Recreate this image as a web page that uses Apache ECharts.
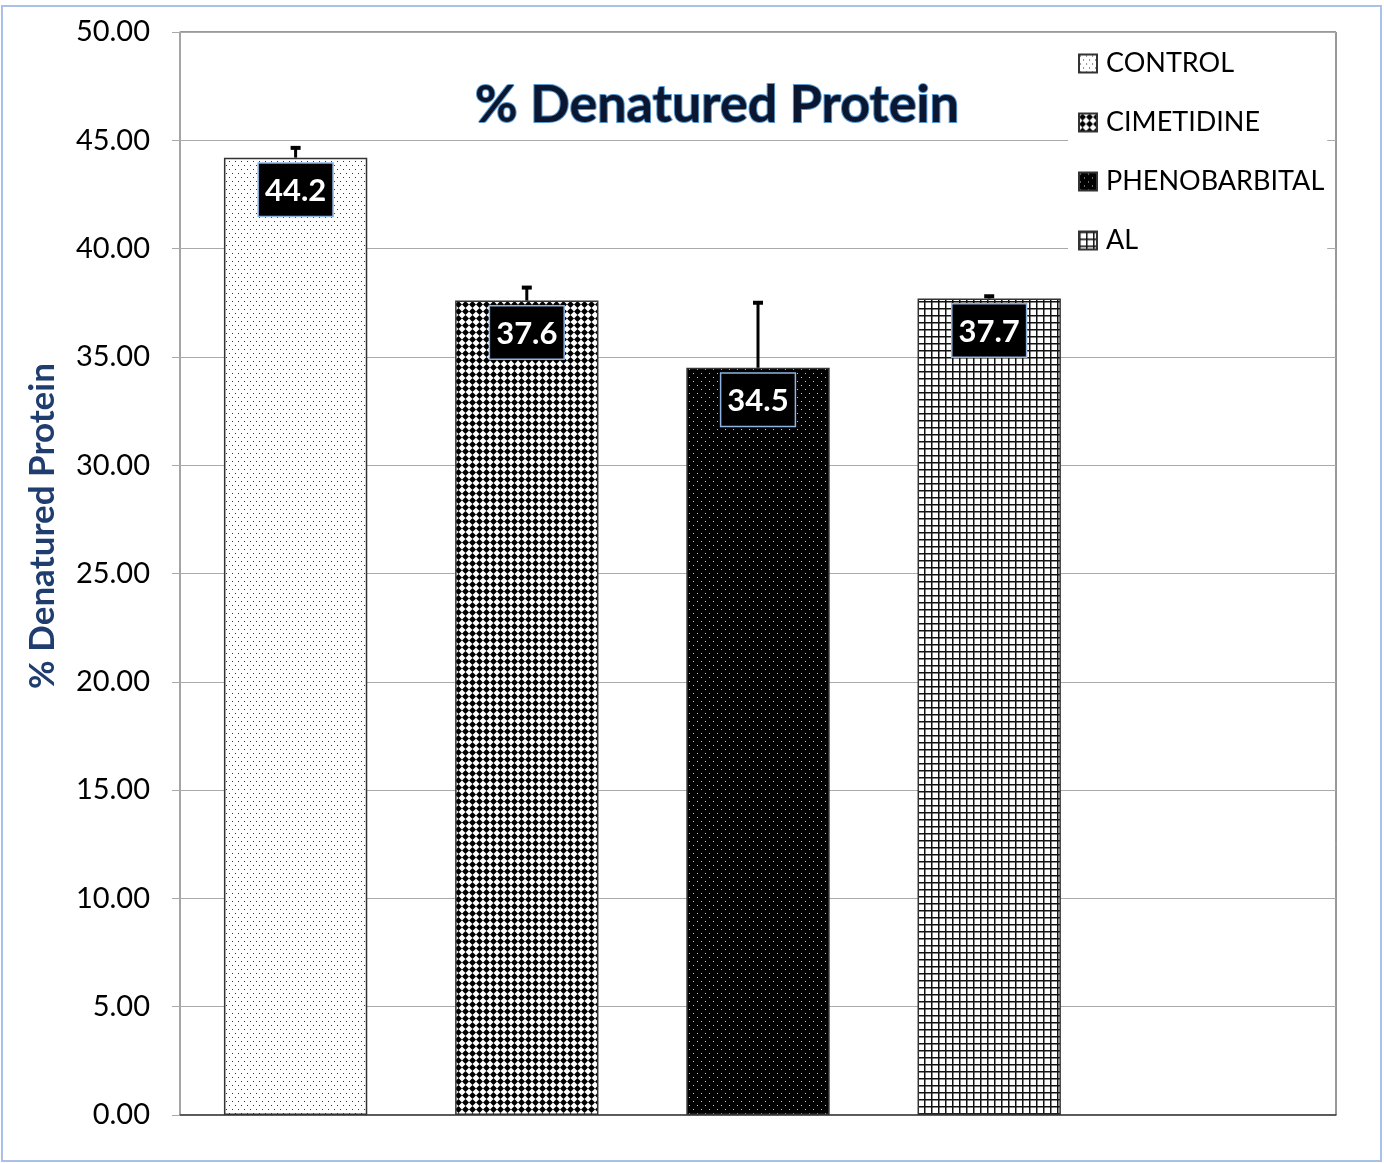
<!DOCTYPE html>
<html><head><meta charset="utf-8">
<script src="https://cdn.jsdelivr.net/npm/echarts@6/dist/echarts.min.js"></script>
<style>html,body{margin:0;padding:0;background:#fff}#c{width:1384px;height:1163px}</style>
</head><body><div id="c"></div>
<script>
const groups = ['CONTROL', 'CIMETIDINE', 'PHENOBARBITAL', 'AL'];
const slots = ['CONTROL', 'CIMETIDINE', 'PHENOBARBITAL', 'AL', ''];
const values = [44.2, 37.6, 34.5, 37.7];
const errors = [0.45, 0.6, 3.0, 0.1];
const yTicks = [0, 5, 10, 15, 20, 25, 30, 35, 40, 45, 50];
const titleText = '% Denatured Protein';
const yName = '% Denatured Protein';

function tile(w, h, draw) {
  const c = document.createElement('canvas');
  c.width = w; c.height = h;
  const g = c.getContext('2d');
  draw(g, w, h);
  return { image: c, repeat: 'repeat' };
}
const patterns = [
  tile(6, 8, (g, w, h) => { g.fillStyle = '#fff'; g.fillRect(0,0,w,h); g.fillStyle = '#333'; g.fillRect(1,1,1,1); g.fillRect(4,5,1,1); }),
  tile(7, 7, (g, w, h) => { g.fillStyle = '#fff'; g.fillRect(0,0,w,h); g.fillStyle = '#000'; g.beginPath(); g.moveTo(3.5,0); g.lineTo(7,3.5); g.lineTo(3.5,7); g.lineTo(0,3.5); g.closePath(); g.fill(); }),
  tile(8, 8, (g, w, h) => { g.fillStyle = '#000'; g.fillRect(0,0,w,h); g.fillStyle = '#ccc'; g.fillRect(1,1,1,1); g.fillRect(5,5,1,1); }),
  tile(7, 7, (g, w, h) => { g.fillStyle = '#fff'; g.fillRect(0,0,w,h); g.fillStyle = '#111'; g.fillRect(0,0,w,1.5); g.fillRect(0,0,1.5,h); })
];

const font = 'Lato, "Open Sans", sans-serif';
const chart = echarts.init(document.getElementById('c'));

const barSeries = groups.map((name, i) => ({
  name: name,
  type: 'bar',
  barGap: '-100%',
  barWidth: '62%',
  data: slots.map((s, j) => j === i ? values[i] : '-'),
  itemStyle: { color: patterns[i], borderColor: '#333', borderWidth: 1.5 },
  label: {
    show: true, position: 'insideTop', distance: 6,
    formatter: p => p.value.toFixed(1),
    color: '#fff', fontWeight: 'bold', fontSize: 31, fontFamily: font,
    backgroundColor: '#000', borderColor: '#8eb4e3', borderWidth: 1.5,
    padding: [12, 6, 9, 6]
  },
  z: 2
}));

const errSeries = {
  type: 'custom',
  name: 'err',
  data: values.map((v, i) => [i, v, errors[i]]),
  renderItem: (params, api) => {
    const x = api.value(0), v = api.value(1), e = api.value(2);
    const p0 = api.coord([x, v]);
    const p1 = api.coord([x, v + e]);
    return { type: 'group', children: [
      { type: 'line', shape: { x1: p0[0], y1: p0[1], x2: p1[0], y2: p1[1] }, style: { stroke: '#000', lineWidth: 3 } },
      { type: 'line', shape: { x1: p1[0] - 5, y1: p1[1], x2: p1[0] + 5, y2: p1[1] }, style: { stroke: '#000', lineWidth: 4 } }
    ]};
  },
  z: 3,
  silent: true
};

chart.setOption({
  animation: false,
  backgroundColor: '#fff',
  title: {
    text: titleText, left: 712, top: 74, textAlign: 'center',
    textStyle: { fontSize: 52, fontWeight: 'bold', fontFamily: font, color: '#0b1730', textBorderColor: '#5b9bd5', textBorderWidth: 2 }
  },
  legend: {
    data: groups, orient: 'vertical', left: 1068, top: 44,
    backgroundColor: '#fff', padding: [6, 3, 6, 10],
    itemWidth: 18, itemHeight: 18, itemGap: 32, icon: 'rect',
    textStyle: { fontSize: 27, fontFamily: font, color: '#000', padding: [0, 0, 0, 4] }
  },
  grid: { left: 180, right: 48, top: 32, bottom: 48, show: true, borderColor: '#333', borderWidth: 1 },
  xAxis: {
    type: 'category', data: slots,
    axisLine: { lineStyle: { color: '#444', width: 1.5 } },
    axisTick: { show: false }, axisLabel: { show: false }
  },
  yAxis: {
    type: 'value', min: yTicks[0], max: yTicks[yTicks.length - 1], interval: 5,
    axisLine: { show: true, lineStyle: { color: '#aaa', width: 1.5 } },
    axisTick: { show: true, length: 8, lineStyle: { color: '#aaa' } },
    axisLabel: { fontSize: 29, fontFamily: font, color: '#000', margin: 30, formatter: v => v.toFixed(2) },
    splitLine: { lineStyle: { color: '#aaa', width: 1 } }
  },
  graphic: [
    { type: 'rect', shape: { x: 2, y: 6, width: 1379, height: 1155 }, style: { fill: 'none', stroke: '#a9c1e8', lineWidth: 2 }, z: 100 },
    { type: 'text', x: 43, y: 526, rotation: Math.PI / 2,
      style: { text: yName, align: 'center', verticalAlign: 'middle', fontSize: 35, fontWeight: 'bold', fontFamily: font, fill: '#1f3d6e' } }
  ],
  series: [...barSeries, errSeries]
});
</script></body></html>
